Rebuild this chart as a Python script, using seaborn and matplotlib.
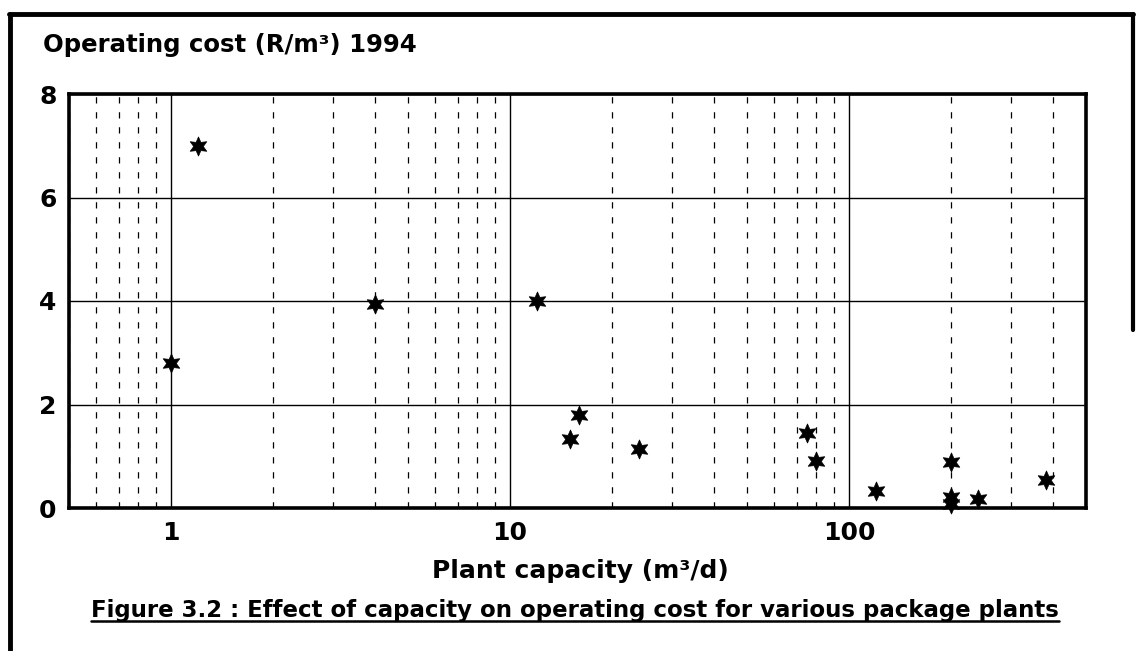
import matplotlib
matplotlib.use("Agg")
import matplotlib.pyplot as plt
import seaborn as sns
import numpy as np
import pandas as pd
from matplotlib.ticker import LogLocator, FixedLocator, NullFormatter
from matplotlib.lines import Line2D

# ---- data ----
capacity = [1, 1.2, 4, 12, 15, 16, 24, 75, 80, 120, 200, 200, 200, 240, 380]
op_cost = [2.8, 7.0, 3.95, 4.0, 1.33, 1.8, 1.14, 1.45, 0.9, 0.33, 0.89, 0.22, 0.08, 0.18, 0.54]
x_major_ticks = [1, 10, 100]
x_tick_labels = ["1", "10", "100"]
y_ticks = [0, 2, 4, 6, 8]
title_text = "Operating cost (R/m³) 1994"
xlabel_text = "Plant capacity (m³/d)"
caption_text = "Figure 3.2 : Effect of capacity on operating cost for various package plants"

df = pd.DataFrame({"capacity": capacity, "cost": op_cost})

sns.set_theme(style="white")
plt.rcParams["font.family"] = ["DejaVu Sans"]
plt.rcParams["text.color"] = "black"
plt.rcParams["xtick.color"] = "black"
plt.rcParams["ytick.color"] = "black"
plt.rcParams["axes.labelcolor"] = "black"

fig = plt.figure(figsize=(11.36, 6.51), dpi=100)
ax = fig.add_axes([69/1136, 1-508/651, (1086-69)/1136, (508-94)/651])

ax.set_xscale("log")
ax.set_xlim(0.5, 500)
ax.set_ylim(0, 8)

# grid
ax.xaxis.set_major_locator(FixedLocator(x_major_ticks))
ax.xaxis.set_minor_locator(LogLocator(base=10, subs=np.arange(2, 10)))
ax.xaxis.set_minor_formatter(NullFormatter())
ax.set_xticklabels(x_tick_labels)
ax.set_yticks(y_ticks)
ax.grid(True, which="major", axis="both", color="black", linewidth=1.0, linestyle="-")
ax.grid(True, which="minor", axis="x", color="black", linewidth=0.9, linestyle=(0, (5, 7)))
ax.set_axisbelow(True)

sns.scatterplot(data=df, x="capacity", y="cost", ax=ax, marker=(6, 1, 0),
                s=190, color="black", edgecolor="black", linewidth=0.5, zorder=5,
                clip_on=False)

for sp in ax.spines.values():
    sp.set_color("black")
    sp.set_linewidth(2.6)
    sp.set_visible(True)

ax.tick_params(axis="both", which="both", length=0, labelsize=18, pad=9,
               colors="black")
for lab in ax.get_xticklabels() + ax.get_yticklabels():
    lab.set_fontweight("bold")
ax.set_xlabel("")
ax.set_ylabel("")

fig.text(43/1136, 1-45/651, title_text, fontsize=17.6, fontweight="bold",
         ha="left", va="center", color="black")
fig.text(580/1136, 1-571/651, xlabel_text, fontsize=18, fontweight="bold",
         ha="center", va="center", color="black")
cap = fig.text(575/1136, 1-611/651, caption_text, fontsize=16.5, fontweight="bold",
               ha="center", va="center", color="black")

# underline caption
fig.canvas.draw()
bb = cap.get_window_extent(renderer=fig.canvas.get_renderer())
inv = fig.transFigure.inverted()
(x0, y0), (x1, y1) = inv.transform([[bb.x0, bb.y0], [bb.x1, bb.y0]])
fig.add_artist(Line2D([x0, x1], [y0 + 2/651, y0 + 2/651], color="black",
                      linewidth=1.8, transform=fig.transFigure))

# outer frame (left, top, right part)
fig.add_artist(Line2D([10/1136, 10/1136], [0, 1-14/651], color="black", linewidth=3.5,
                      transform=fig.transFigure))
fig.add_artist(Line2D([8.5/1136, 1133/1136], [1-14/651, 1-14/651], color="black", linewidth=3.5,
                      transform=fig.transFigure))
fig.add_artist(Line2D([1133/1136, 1133/1136], [1-14/651, 1-330/651], color="black", linewidth=3.0,
                      transform=fig.transFigure))

fig.savefig("out.png", dpi=100, facecolor="white")
